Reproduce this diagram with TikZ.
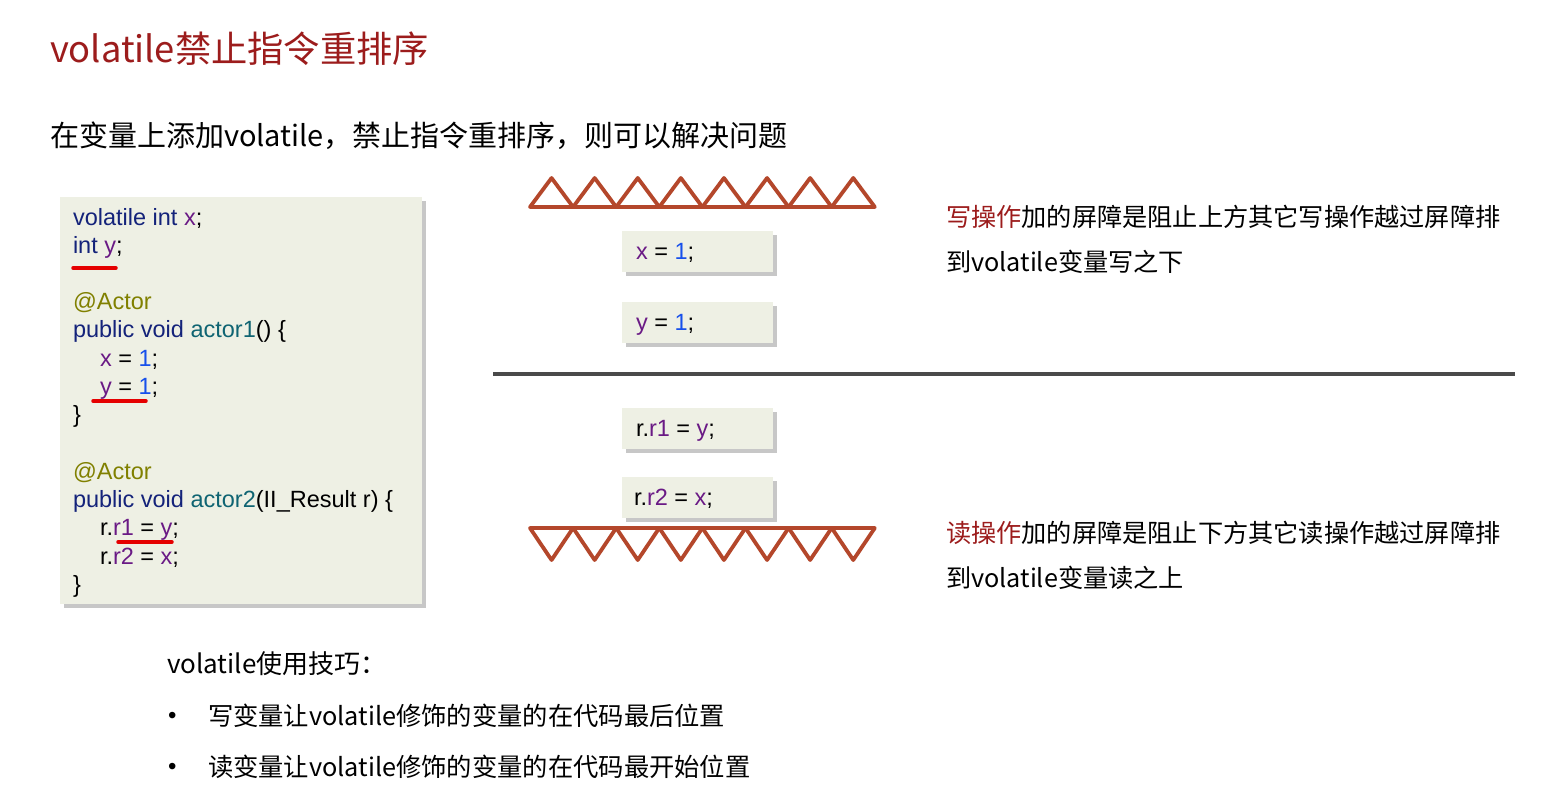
\documentclass[tikz,border=0pt]{standalone}
\usepackage{fontspec}
\setmainfont{Liberation Sans}
\newfontfamily\cjk{Noto Sans CJK SC}
\usetikzlibrary{shadows}
\definecolor{boxfill}{HTML}{EEF0E4}
\definecolor{titlered}{HTML}{9C1C1C}
\definecolor{barrier}{HTML}{B4472B}
\definecolor{kwnavy}{HTML}{14237A}
\definecolor{varpurple}{HTML}{6A1A85}
\definecolor{numblue}{HTML}{1750EB}
\definecolor{annolive}{HTML}{808000}
\definecolor{fnteal}{HTML}{0F6472}
\definecolor{rulegray}{HTML}{4A4A4A}
\newcommand{\ckw}[1]{\textcolor{kwnavy}{#1}}
\newcommand{\cvar}[1]{\textcolor{varpurple}{#1}}
\newcommand{\cnum}[1]{\textcolor{numblue}{#1}}
\newcommand{\cann}[1]{\textcolor{annolive}{#1}}
\newcommand{\cfun}[1]{\textcolor{fnteal}{#1}}
\begin{document}
\begin{tikzpicture}[x=1pt,y=-1pt,
  txt/.style={anchor=base west,inner sep=0pt,outer sep=0pt},
  code/.style={txt,font=\fontsize{23.5}{28}\selectfont},
  cn/.style={txt,font=\cjk\fontsize{25.2}{30}\selectfont},
  bt/.style={txt,font=\cjk\fontsize{25.3}{32}\selectfont},
  codebox/.style={fill=boxfill,draw=none,inner sep=0pt,
    drop shadow={shadow xshift=3.5pt,shadow yshift=-3.5pt,fill=black,opacity=0.22}},
  redline/.style={red!90!black,line width=3.5pt,line cap=round},
  tri/.style={barrier,line width=3.8pt,line join=round,line cap=round}]
\useasboundingbox (0,0) rectangle (1559,790);
\fill[white] (0,0) rectangle (1559,790);

% title and subtitle
\node[txt,font=\cjk\fontsize{36.3}{40}\selectfont,text=titlered] (title) at (50,62) {volatile禁止指令重排序};
\node[txt,font=\cjk\fontsize{29}{36}\selectfont] (sub) at (50,146) {在变量上添加volatile，禁止指令重排序，则可以解决问题};

% code box
\node[codebox,anchor=north west,minimum width=362pt,minimum height=407pt] (codebg) at (60,197) {};
\node[code] (l1) at (73,225) {\ckw{volatile int} \cvar{x};};
\node[code] (l2) at (73,253) {\ckw{int} \cvar{y};};
\node[code] (l3) at (73,309) {\cann{@Actor}};
\node[code] (l4) at (73,337) {\ckw{public void} \cfun{actor1}() \{};
\node[code] (l5) at (100,366) {\cvar{x} = \cnum{1};};
\node[code] (l6) at (100,394) {\cvar{y} = \cnum{1};};
\node[code] (l7) at (73,422) {\}};
\node[code] (l8) at (73,479) {\cann{@Actor}};
\node[code] (l9) at (73,507) {\ckw{public void} \cfun{actor2}(II\_Result r) \{};
\node[code] (l10) at (100,535) {r.\cvar{r1} = \cvar{y};};
\node[code] (l11) at (100,564) {r.\cvar{r2} = \cvar{x};};
\node[code] (l12) at (73,592) {\}};
\draw[redline] (73,268) -- (116,268);
\draw[redline] (93,401) -- (146,401);
\draw[redline] (118,542) -- (172,542);

% barriers
\foreach \i in {0,...,7}{
  \draw[tri] ({530+43.1*\i},207) -- ({551.55+43.1*\i},178) -- ({573.1+43.1*\i},207) -- cycle;
  \draw[tri] ({530+43.1*\i},528) -- ({551.55+43.1*\i},560) -- ({573.1+43.1*\i},528) -- cycle;
}

% small boxes
\node[codebox,anchor=north west,minimum width=151pt,minimum height=41pt] (bx) at (622,231) {};
\node[code] (tx) at (636,259) {\cvar{x} = \cnum{1};};
\node[codebox,anchor=north west,minimum width=151pt,minimum height=41pt] (by) at (622,302) {};
\node[code] (ty) at (636,330) {\cvar{y} = \cnum{1};};
\node[codebox,anchor=north west,minimum width=151pt,minimum height=41pt] (br1) at (622,408) {};
\node[code] (tr1) at (636,436) {r.\cvar{r1} = \cvar{y};};
\node[codebox,anchor=north west,minimum width=151pt,minimum height=41pt] (br2) at (622,477) {};
\node[code] (tr2) at (634,505) {r.\cvar{r2} = \cvar{x};};

% divider
\draw[rulegray,line width=3.5pt] (493,374) -- (1515,374);

% right explanations
\node[cn] (w1) at (946,226) {\textcolor{titlered}{写操作}加的屏障是阻止上方其它写操作越过屏障排};
\node[cn] (w2) at (946,271) {到volatile变量写之下};
\node[cn] (r1) at (946,542) {\textcolor{titlered}{读操作}加的屏障是阻止下方其它读操作越过屏障排};
\node[cn] (r2) at (946,587) {到volatile变量读之上};

% tips
\node[bt,font=\cjk\fontsize{26}{32}\selectfont] (tip) at (167,673) {volatile使用技巧：};
\node[txt,font=\fontsize{24}{28}\selectfont] (b1) at (168,723) {•};
\node[bt] (t1) at (208,725) {写变量让volatile修饰的变量的在代码最后位置};
\node[txt,font=\fontsize{24}{28}\selectfont] (b2) at (168,774) {•};
\node[bt] (t2) at (208,776) {读变量让volatile修饰的变量的在代码最开始位置};
\end{tikzpicture}
\end{document}
